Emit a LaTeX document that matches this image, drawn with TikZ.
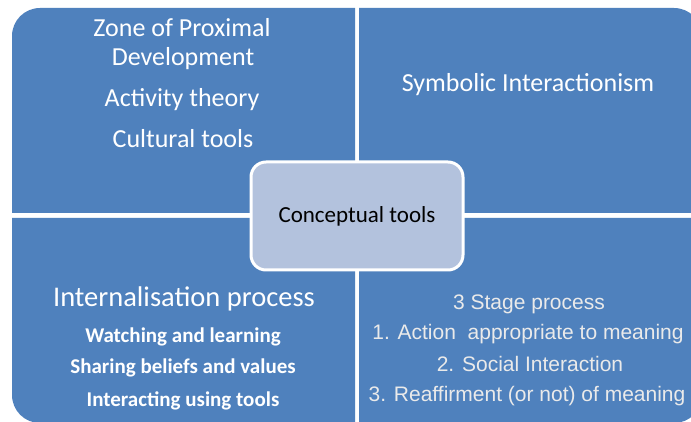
\documentclass[tikz,border=0pt]{standalone}
\usepackage{fontspec}
\setmainfont{Carlito}
\newfontfamily\arialfont{Liberation Sans}
\definecolor{quadblue}{HTML}{4F81BD}
\definecolor{hubfill}{HTML}{B3C2DD}
\definecolor{stagegrey}{HTML}{EAEAEA}
\tikzset{
  quad/.style={fill=quadblue, draw=none},
  quadtext/.style={text=white, inner sep=0pt, anchor=base},
  headtext/.style={quadtext, font=\fontsize{26}{30}\selectfont},
  subtext/.style={quadtext, font=\fontsize{21}{25}\selectfont\bfseries},
  stagetext/.style={text=stagegrey, inner sep=0pt, anchor=base,
    font=\arialfont\fontsize{21}{25}\selectfont},
  hub/.style={draw=white, line width=3pt, fill=hubfill, rounded corners=15pt,
    minimum width=212pt, minimum height=108pt, inner sep=0pt,
    font=\fontsize{23}{27}\selectfont, text=black}
}
\begin{document}
\begin{tikzpicture}[x=1pt,y=-1pt]
  \useasboundingbox (0,0) rectangle (691,422);
  \clip (0,0) rectangle (691,422);
  \fill[white] (0,0) rectangle (691,422);

  % four quadrants, each rounded only at its outer corner (y axis points down)
  \fill[quad] (12,213) -- (12,36) arc[start angle=180, end angle=270, radius=28] -- (355,8) -- (355,213) -- cycle;
  \fill[quad] (359,8) -- (674,8) arc[start angle=270, end angle=360, radius=28] -- (702,213) -- (359,213) -- cycle;
  \fill[quad] (12,218) -- (355,218) -- (355,423) -- (40,423) arc[start angle=90, end angle=180, radius=28] -- cycle;
  \fill[quad] (359,218) -- (702,218) -- (702,395) arc[start angle=0, end angle=90, radius=28] -- (359,423) -- cycle;

  % central hub
  \node[hub] (hub) at (357,216) {};
  \node[anchor=base, inner sep=0pt, font=\fontsize{23}{27}\selectfont] (hubtext) at (357,223) {Conceptual tools};

  % top left
  \node[headtext] (zpd1) at (182,37) {Zone of Proximal};
  \node[headtext] (zpd2) at (183,66) {Development};
  \node[headtext] (act) at (182,107) {Activity theory};
  \node[headtext] (cult) at (183,148) {Cultural tools};

  % top right
  \node[headtext] (symb) at (528,92) {Symbolic Interactionism};

  % bottom left
  \node[quadtext, font=\fontsize{28.5}{32}\selectfont] (intern) at (184,306) {Internalisation process};
  \node[subtext] (watch) at (183,342) {Watching and learning};
  \node[subtext] (share) at (183,373) {Sharing beliefs and values};
  \node[subtext] (inter) at (183,406) {Interacting using tools};

  % bottom right
  \node[stagetext] (stage0) at (529,309) {3 Stage process};
  \node[stagetext] (stage1) at (528,339) {1. Action\ \ appropriate to meaning};
  \node[stagetext] (stage2) at (530,371) {2. Social Interaction};
  \node[stagetext] (stage3) at (527,401) {3. Reaffirment (or not) of meaning};
\end{tikzpicture}
\end{document}
